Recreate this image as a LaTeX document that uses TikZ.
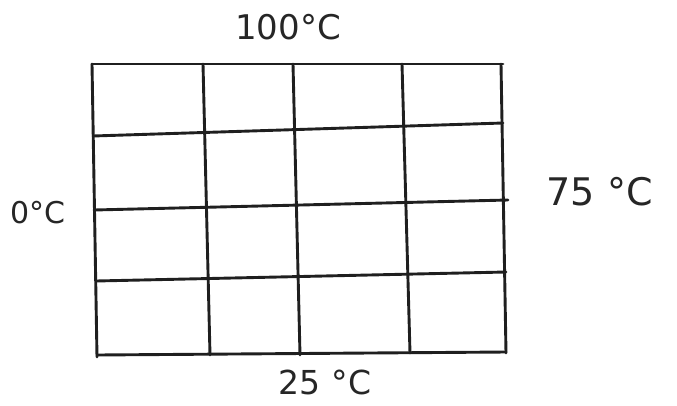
\documentclass[tikz,border=0pt]{standalone}
\usepackage{fontspec}
\setmainfont{DejaVu Sans}
\tikzset{gridline/.style={line width=2.9pt, black!88, line cap=round},
  templabel/.style={text=black!85, inner sep=0pt}}
\begin{document}
\begin{tikzpicture}[x=1pt,y=-1pt]
\useasboundingbox (0,0) rectangle (677,405);
% vertical lines
\draw[gridline] (92,64) -- (97,357);
\draw[gridline] (203,64) -- (210,355);
\draw[gridline] (293,64) -- (300,355);
\draw[gridline] (402,64) -- (410,353);
\draw[gridline] (501,64) -- (506,353);
% horizontal lines
\draw[gridline] (92,64) -- (503,64);
\draw[gridline] (93,136) -- (503,123);
\draw[gridline] (94,210) -- (508,200);
\draw[gridline] (96,281) -- (506,272);
\draw[gridline] (97,355) -- (506,352);
% labels
\node[templabel, font=\fontsize{34}{38}\selectfont] (top) at (288,27) {100°C};
\node[templabel, font=\fontsize{30}{34}\selectfont] (left) at (38,213) {0°C};
\node[templabel, font=\fontsize{38}{42}\selectfont] (right) at (600,192) {75\,\,°C};
\node[templabel, font=\fontsize{33}{36}\selectfont] (bottom) at (325,382) {25\,\,°C};
\end{tikzpicture}
\end{document}
